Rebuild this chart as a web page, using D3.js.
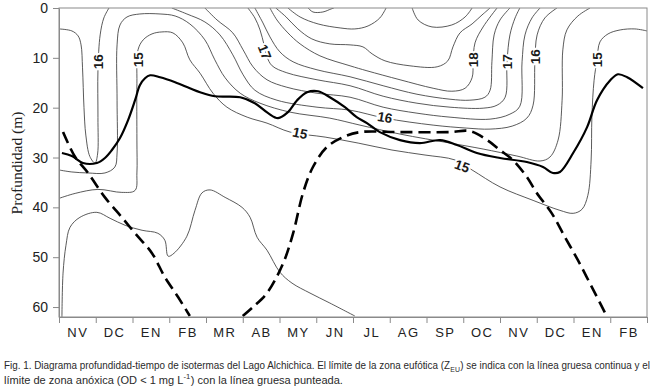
<!DOCTYPE html>
<html>
<head>
<meta charset="utf-8">
<script src="https://cdnjs.cloudflare.com/ajax/libs/d3/7.8.5/d3.min.js"></script>
<style>
body { margin: 0; background: #fff; }
svg { display: block; }
</style>
</head>
<body>
<div id="chart"></div>
<script>
// month labels, one per interval (Nov .. Feb of the next-next year)
const months = ["NV", "DC", "EN", "FB", "MR", "AB", "MY", "JN", "JL", "AG", "SP", "OC", "NV", "DC", "EN", "FB"];
const depthTicks = [0, 10, 20, 30, 40, 50, 60];

// isotherms: [month index, depth m]
const iso145 = [[0.08,62],[0.11,53.2],[0.19,47.6],[0.3,44.0],[0.57,42.0],[1.03,41.0],[1.39,42.2],[1.8,43.6],[2.26,44.6],[2.69,45.2],[2.88,46.6],[2.97,49.8],[3.13,49.2],[3.48,45.8],[3.7,40.6],[3.89,37.1],[4.11,36.5],[4.52,38.0],[4.98,40.0],[5.2,42.0],[5.39,46.0],[5.66,48.6],[6.01,53.0],[6.34,55.2],[6.83,57.2],[7.37,59.2],[8.05,61.8]];
const iso15 = [[0,38.2],[0.44,37.2],[1.06,36.4],[1.71,37.0],[2.07,36.6],[2.12,33.1],[2.12,26.5],[2.12,15.1],[2.15,8.4],[2.29,6.4],[2.53,5.2],[2.8,4.8],[3.1,5.0],[3.37,7.0],[3.56,10.4],[3.84,13.1],[4.19,17.1],[4.57,19.9],[5.12,21.9],[5.66,23.1],[6.29,24.9],[7.24,25.9],[8.14,27.1],[9.06,28.5],[9.96,29.5],[10.78,30.5],[11.24,32.5],[12.0,35.9],[12.9,38.6],[13.63,40.6],[13.99,41.2],[14.23,40.4],[14.39,37.6],[14.48,30.5],[14.5,21.9],[14.56,14.5],[14.64,10.4],[14.72,6.8],[14.94,5.2],[15.27,4.4],[15.67,4.2],[16,4.6]];
const iso155 = [[0,32.5],[0.35,32.9],[0.79,33.1],[1.25,33.1],[1.52,31.9],[1.58,29.1],[1.58,18.5],[1.58,7.4],[1.66,3.4],[1.85,1.8],[2.2,1.2],[2.75,1.2],[3.16,1.6],[3.56,3.2],[3.97,6.4],[4.24,10.4],[4.52,14.0],[4.93,17.1],[5.47,19.1],[6.29,20.9],[7.37,22.1],[8.19,23.5],[9.28,25.3],[10.64,27.1],[11.54,28.3],[12.46,29.7],[13.09,30.7],[13.36,29.9],[13.58,26.5],[13.69,18.5],[13.71,8.4],[13.82,4.4],[14.12,1.6],[14.45,0]];
const iso16a = [[0,4.2],[0.35,4.6],[0.52,5.6],[0.6,7.4],[0.64,12],[0.68,20],[0.73,25.5],[0.84,29.8],[0.98,31.1],[1.05,29.3],[1.06,22],[1.06,12.4],[1.12,5.4],[1.22,2.0],[1.36,0]];
const iso16 = [[3.07,0],[3.48,1.2],[3.97,2.8],[4.38,5.4],[4.73,9.4],[5.01,13.4],[5.33,16.5],[5.93,18.5],[7.02,19.9],[7.92,20.5],[8.87,22.1],[10.18,23.5],[11.1,24.1],[11.73,24.3],[12.33,23.7],[12.73,22.1],[12.9,19.5],[12.95,10.8],[13.01,5.4],[13.22,2.0],[13.55,0]];
const iso165 = [[3.97,0],[4.3,2.4],[4.73,5.0],[5.01,8.4],[5.28,11.8],[5.66,14.4],[6.2,15.9],[7.02,17.1],[7.92,17.9],[8.82,19.9],[9.74,21.1],[10.64,21.9],[11.73,22.3],[12.27,21.3],[12.54,19.7],[12.6,10.8],[12.68,5.4],[12.87,2.0],[13.09,0]];
const iso17 = [[5.14,0],[5.33,2.0],[5.47,4.4],[5.58,7.4],[5.66,9.8],[5.8,11.6],[6.2,13.0],[7.02,14.4],[7.92,15.6],[8.82,17.7],[9.74,19.1],[10.64,19.9],[11.54,20.1],[11.92,19.5],[12.14,17.9],[12.19,10.8],[12.27,5.4],[12.41,2.0],[12.54,0]];
const iso175 = [[5.33,0],[5.55,3.0],[5.74,5.8],[6.01,8.8],[6.37,10.8],[7.02,12.4],[7.92,13.8],[8.82,15.6],[9.74,17.3],[10.64,18.3],[11.18,18.5],[11.59,17.9],[11.73,16.5],[11.78,10.8],[11.84,5.4],[12.0,2.4],[12.27,0]];
const iso18 = [[5.74,0],[5.93,2.4],[6.23,5.0],[6.56,7.2],[7.1,9.6],[7.92,11.6],[8.38,12.6],[9.28,14.4],[10.18,16.1],[10.69,16.7],[11.05,16.1],[11.24,14.0],[11.27,10.8],[11.32,7.0],[11.54,3.8],[11.92,0]];
const iso185 = [[5.9,0],[6.18,1.8],[6.5,4.2],[6.88,6.2],[7.37,7.2],[7.92,7.4],[8.27,7.8],[8.52,9.2],[8.87,10.6],[9.55,11.6],[10.29,11.8],[10.58,10.6],[10.72,7.8],[10.91,5.0],[11.24,3.2],[11.51,1.4],[11.73,0]];
const iso19a = [[6.23,0],[6.56,1.8],[7.05,3.2],[7.65,4.0],[8.05,4.2],[8.41,3.6],[8.73,2.0],[8.9,0]];
const iso19b = [[9.61,0],[9.77,2.4],[10.15,3.8],[10.69,3.4],[11.05,1.8],[11.24,0]];
const iso195 = [[6.78,0],[6.91,0.8],[7.18,0.8],[7.4,0.2],[7.48,0]];

// euphotic limit (solid) and anoxic limit (dashed)
const euphotic = [[0.08,29.1],[0.35,29.7],[0.65,31.1],[1.03,31.1],[1.25,30.1],[1.44,28.5],[1.66,26.1],[1.88,22.5],[2.07,18.5],[2.2,15.5],[2.34,14.1],[2.48,13.5],[2.75,13.9],[3.16,14.9],[3.56,16.1],[3.84,16.9],[4.24,17.7],[4.93,17.9],[5.33,19.1],[5.69,21.1],[5.96,22.1],[6.23,20.9],[6.48,18.5],[6.75,16.9],[7.05,16.7],[7.37,17.9],[7.78,19.9],[8.1,21.9],[8.38,23.1],[8.73,24.9],[9.28,26.5],[9.82,27.1],[10.37,26.5],[10.83,27.5],[11.37,29.1],[12.0,30.1],[12.73,30.9],[13.17,31.9],[13.44,33.1],[13.63,32.9],[13.99,29.1],[14.37,23.9],[14.64,18.5],[15.0,14.5],[15.21,13.3],[15.46,13.9],[15.89,16.1]];
const anoxicA = [[0.11,24.9],[0.44,29.9],[0.79,33.1],[1.25,38.0],[1.71,42.0],[2.07,45.2],[2.53,49.2],[2.88,54.0],[3.24,58.0],[3.56,61.8]];
const anoxicB = [[5.0,61.8],[5.28,60.0],[5.66,57.2],[6.1,51.2],[6.37,45.2],[6.64,37.1],[6.91,31.9],[7.29,27.9],[7.73,25.9],[8.19,24.9],[9.28,24.9],[10.64,24.9],[11.18,24.7],[11.65,26.5],[12.0,28.5],[12.35,30.5],[12.73,33.9],[13.0,37.1],[13.41,41.2],[13.77,46.0],[14.12,50.6],[14.5,56.0],[14.86,61.2],[14.91,62]];

// contour labels: text, month, depth, angle
const isoLabels = [
    ["16", 1.06, 10.8, -90],
    ["15", 2.15, 10.4, -90],
    ["17", 5.6, 8.8, 68],
    ["15", 6.56, 25.1, 12],
    ["16", 8.87, 21.9, 10],
    ["15", 10.97, 31.7, 20],
    ["18", 11.27, 10.4, -90],
    ["17", 12.19, 10.8, -90],
    ["16", 12.95, 9.8, -90],
    ["15", 14.64, 10.4, -90]
];

function drawChart() {
    var width = 655, height = 387;
    var pLeft = 59, pRight = 647, pTop = 8, pBottom = 317;

    var svg = d3.select('#chart').append('svg')
        .attr('width', width)
        .attr('height', height);

    var x = d3.scaleLinear().domain([0, 16]).range([pLeft, pRight]);
    var y = d3.scaleLinear().domain([0, 62]).range([pTop, pBottom]);

    svg.append('clipPath').attr('id', 'plot')
        .append('rect')
        .attr('x', pLeft).attr('y', pTop)
        .attr('width', pRight - pLeft).attr('height', pBottom - pTop);

    var line = d3.line()
        .x(d => x(d[0]))
        .y(d => y(d[1]))
        .curve(d3.curveCatmullRom.alpha(0.5));

    var plot = svg.append('g').attr('clip-path', 'url(#plot)');

    /* thin isotherms */
    var isotherms = [iso145, iso15, iso155, iso16a, iso16, iso165, iso17, iso175, iso18, iso185, iso19a, iso19b, iso195];
    plot.selectAll('.iso')
        .data(isotherms).enter()
        .append('path')
        .attr('class', 'iso')
        .attr('d', d => line(d))
        .style('fill', 'none')
        .style('stroke', '#3c3c3c')
        .style('stroke-width', 0.85);

    /* labels on isotherms */
    svg.selectAll('.iso-label')
        .data(isoLabels).enter()
        .append('text')
        .attr('class', 'iso-label')
        .attr('transform', d => `translate(${x(d[1])},${y(d[2])}) rotate(${d[3]})`)
        .attr('text-anchor', 'middle')
        .attr('dy', '0.36em')
        .style('font-family', 'Liberation Sans, Arial, sans-serif')
        .style('font-weight', 'bold')
        .style('font-size', '13.5px')
        .style('fill', '#1a1a1a')
        .style('stroke', '#fff')
        .style('stroke-width', 4)
        .style('paint-order', 'stroke')
        .text(d => d[0]);

    /* euphotic and anoxic limits */
    plot.append('path')
        .attr('d', line(euphotic))
        .style('fill', 'none')
        .style('stroke', '#000')
        .style('stroke-width', 2.2);

    plot.selectAll('.anoxic')
        .data([anoxicA, anoxicB]).enter()
        .append('path')
        .attr('class', 'anoxic')
        .attr('d', d => line(d))
        .style('fill', 'none')
        .style('stroke', '#000')
        .style('stroke-width', 2.6)
        .style('stroke-dasharray', '12,6');

    /* frame */
    svg.append('rect')
        .attr('x', pLeft).attr('y', pTop)
        .attr('width', pRight - pLeft).attr('height', pBottom - pTop)
        .style('fill', 'none')
        .style('stroke', '#8a8a8a')
        .style('stroke-width', 1);

    /* axes */
    var xTicks = svg.append('g')
        .attr('transform', `translate(0,${pBottom})`)
        .call(d3.axisBottom(x).tickValues(d3.range(17)).tickSize(6).tickSizeOuter(0).tickFormat(''));

    var xLabels = svg.append('g')
        .attr('transform', `translate(0,${pBottom})`)
        .call(d3.axisBottom(x).tickValues(d3.range(0.5, 16)).tickSize(0).tickPadding(11)
            .tickFormat(d => months[Math.floor(d)]));
    xLabels.select('.domain').remove();

    var yAxis = svg.append('g')
        .attr('transform', `translate(${pLeft},0)`)
        .call(d3.axisLeft(y).tickValues(depthTicks).tickSize(6).tickSizeOuter(0).tickPadding(5));

    [xTicks, yAxis].forEach(function(g) {
        g.selectAll('.domain, line').style('stroke', '#8a8a8a');
    });
    svg.selectAll('.tick text')
        .style('font-family', 'Liberation Sans, Arial, sans-serif')
        .style('fill', '#222');
    xLabels.selectAll('.tick text').style('font-size', '13px').style('letter-spacing', '1.5px');
    yAxis.selectAll('.tick text').style('font-size', '14px');

    svg.append('text')
        .attr('transform', 'translate(22,163) rotate(-90)')
        .attr('text-anchor', 'middle')
        .style('font-family', 'Liberation Serif, Times New Roman, serif')
        .style('font-size', '15.5px')
        .style('fill', '#222')
        .text('Profundidad (m)');

    /* caption: pieces laid side by side, then squeezed to the column width */
    var capFont = 'Liberation Sans Narrow, Arial Narrow, Liberation Sans, sans-serif';
    function captionLine(yPos, parts, fitWidth) {
        var g = svg.append('g');
        var cursor = 0;
        parts.forEach(function(p) {
            var t = g.append('text')
                .attr('x', cursor)
                .attr('y', p.small ? p.shift : 0)
                .style('font-family', capFont)
                .style('font-size', p.small ? '8px' : '11.5px')
                .style('fill', '#2a2a2a')
                .text(p.text);
            cursor += t.node().getComputedTextLength() + (p.small ? 0.5 : 0);
        });
        g.attr('transform', `translate(4,${yPos}) scale(${fitWidth / cursor},1)`);
    }
    captionLine(369, [
        {text: 'Fig. 1. Diagrama profundidad-tiempo de isotermas del Lago Alchichica. El límite de la zona eufótica (Z'},
        {text: 'EU', small: true, shift: 3},
        {text: ') se indica con la línea gruesa continua y el'}
    ], 646);
    captionLine(384, [
        {text: 'límite de zona anóxica (OD < 1 mg L'},
        {text: '-1', small: true, shift: -5},
        {text: ') con la línea gruesa punteada.'}
    ], 339);
}

drawChart();
</script>
</body>
</html>
